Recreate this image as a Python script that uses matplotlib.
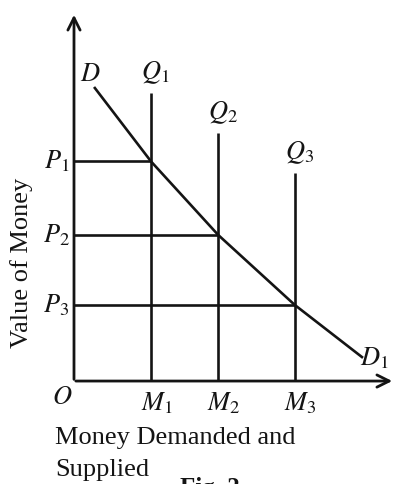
import matplotlib
matplotlib.use('Agg')
import matplotlib.pyplot as plt

plt.rcParams['mathtext.fontset'] = 'stix'
plt.rcParams['font.family'] = 'Liberation Serif'

# quantities of money M1..M3 and value of money P1..P3
m_vals = [2.40, 4.49, 6.88]
p_vals = [5.95, 3.96, 2.06]
# tops of the vertical money supply lines Q1..Q3
q_tops = [7.80, 6.72, 5.64]
# demand curve D -> D1
d_x = [0.65, 2.40, 4.49, 6.88, 8.97]
d_y = [7.94, 5.95, 3.96, 2.06, 0.65]

m_labels = ['$M_1$', '$M_2$', '$M_3$']
p_labels = ['$P_1$', '$P_2$', '$P_3$']
q_labels = ['$Q_1$', '$Q_2$', '$Q_3$']

ink = '#141414'

fig = plt.figure(figsize=(3.98, 4.84), dpi=100)
ax = fig.add_axes([0, 0, 1, 1])
ax.set_xlim(-2.305, 10.093)
ax.set_ylim(-2.79, 10.325)
ax.axis('off')

# axes with open arrow heads
ax.annotate('', xy=(0, 10.0), xytext=(0, -0.03),
            arrowprops=dict(arrowstyle='->', lw=2.0, color=ink, mutation_scale=22))
ax.annotate('', xy=(10.0, 0), xytext=(-0.03, 0),
            arrowprops=dict(arrowstyle='->', lw=2.0, color=ink, mutation_scale=22))

# horizontal lines from P to the demand curve
for m, p in zip(m_vals, p_vals):
    ax.plot([0, m], [p, p], color=ink, lw=1.9, solid_capstyle='butt')

# vertical supply lines
for m, q in zip(m_vals, q_tops):
    ax.plot([m, m], [0, q], color=ink, lw=1.9, solid_capstyle='butt')

# demand curve
ax.plot(d_x, d_y, color=ink, lw=1.9)

fs = 19
for m, lab in zip(m_vals, m_labels):
    ax.text(m + 0.17, -0.6, lab, fontsize=fs, ha='center', va='center', color=ink)
for p, lab in zip(p_vals, p_labels):
    ax.text(-0.55, p, lab, fontsize=fs, ha='center', va='center', color=ink)
for m, q, lab in zip(m_vals, q_tops, q_labels):
    ax.text(m + 0.14, q + 0.55, lab, fontsize=fs, ha='center', va='center', color=ink)

ax.text(0.5, 8.3, '$D$', fontsize=fs, ha='center', va='center', color=ink)
ax.text(9.35, 0.62, '$D_1$', fontsize=fs, ha='center', va='center', color=ink)
ax.text(-0.37, -0.47, '$O$', fontsize=fs, ha='center', va='center', color=ink)

# axis titles
ax.text(-1.62, 3.2, 'Value of Money', fontsize=19, rotation=90,
        ha='center', va='center', color=ink)
ax.text(-0.59, -1.55, 'Money Demanded and', fontsize=19, ha='left', va='center', color=ink)
ax.text(-0.59, -2.42, 'Supplied', fontsize=19, ha='left', va='center', color=ink)
ax.text(3.3, -2.6, 'Fig. 2', fontsize=18, fontweight='bold', ha='left', va='top', color=ink)

plt.savefig('out.png', dpi=100)
